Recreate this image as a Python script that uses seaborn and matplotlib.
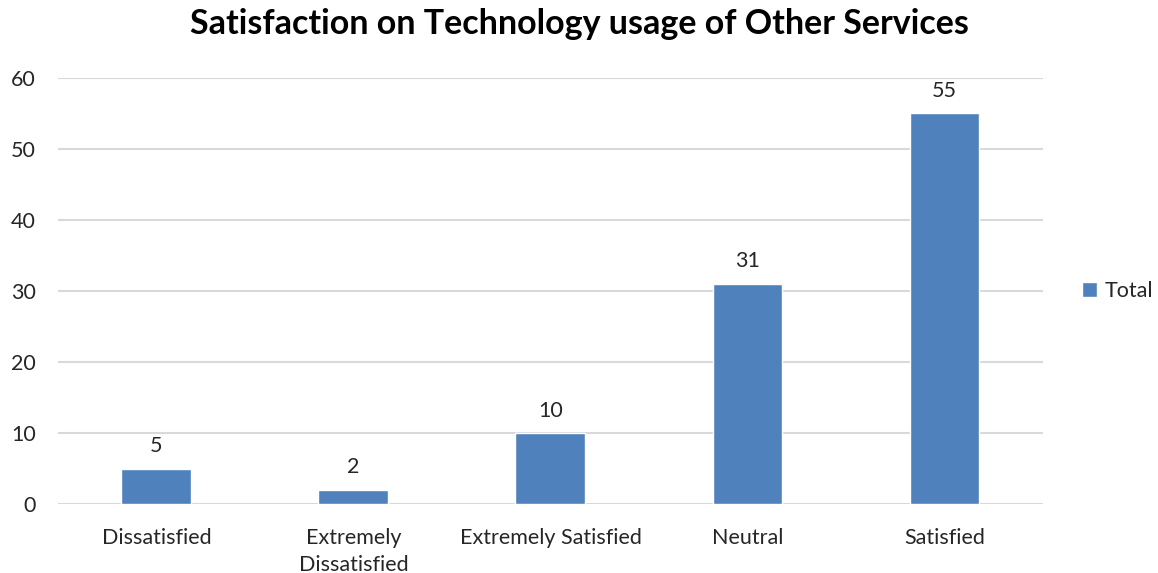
import matplotlib
matplotlib.use("Agg")
import matplotlib.pyplot as plt
import seaborn as sns
import pandas as pd
from matplotlib.patches import Patch

categories = ["Dissatisfied", "Extremely\nDissatisfied", "Extremely Satisfied", "Neutral", "Satisfied"]
totals = [5, 2, 10, 31, 55]
y_ticks = [0, 10, 20, 30, 40, 50, 60]
series_name = "Total"
title = "Satisfaction on Technology usage of Other Services"

sns.set_theme(style="white")
plt.rcParams["font.family"] = ["Lato", "DejaVu Sans"]

df = pd.DataFrame({"category": categories, "value": totals})

fig = plt.figure(figsize=(11.58, 5.73), dpi=100)
ax = fig.add_axes([0.050, 0.1204, 0.8507, 0.7435])

bar_color = "#4F81BD"
sns.barplot(data=df, x="category", y="value", color=bar_color, width=0.355,
            saturation=1, ax=ax, zorder=3)

fs = 15.5
ax.set_ylim(0, 60)
ax.set_xlim(-0.5, len(categories) - 0.5)
ax.set_yticks(y_ticks)
ax.set_yticklabels([str(t) for t in y_ticks], fontsize=fs, color="#262626")
ax.tick_params(axis="x", labelsize=fs, colors="#262626", length=0, pad=17)
ax.tick_params(axis="y", length=0, pad=16)
for lbl in ax.get_xticklabels():
    lbl.set_linespacing(1.45)
ax.yaxis.grid(True, color="#D9D9D9", linewidth=1.5, zorder=0)
ax.set_axisbelow(True)
for s in ax.spines.values():
    s.set_visible(False)
ax.set_xlabel("")
ax.set_ylabel("")

for i, v in enumerate(totals):
    ax.annotate(str(v), (i, v), xytext=(0, 9), textcoords="offset points",
                ha="center", va="bottom", fontsize=fs, color="#262626")

fig.suptitle(title, fontsize=24.5, fontweight="bold", color="#000000", y=0.986)

ax.legend(handles=[Patch(facecolor=bar_color, label=series_name)],
          loc="center left", bbox_to_anchor=(1.02, 0.5), frameon=False,
          fontsize=fs, handlelength=0.7, handleheight=0.7, handletextpad=0.35)

fig.savefig("out.png", dpi=100, facecolor="white")
